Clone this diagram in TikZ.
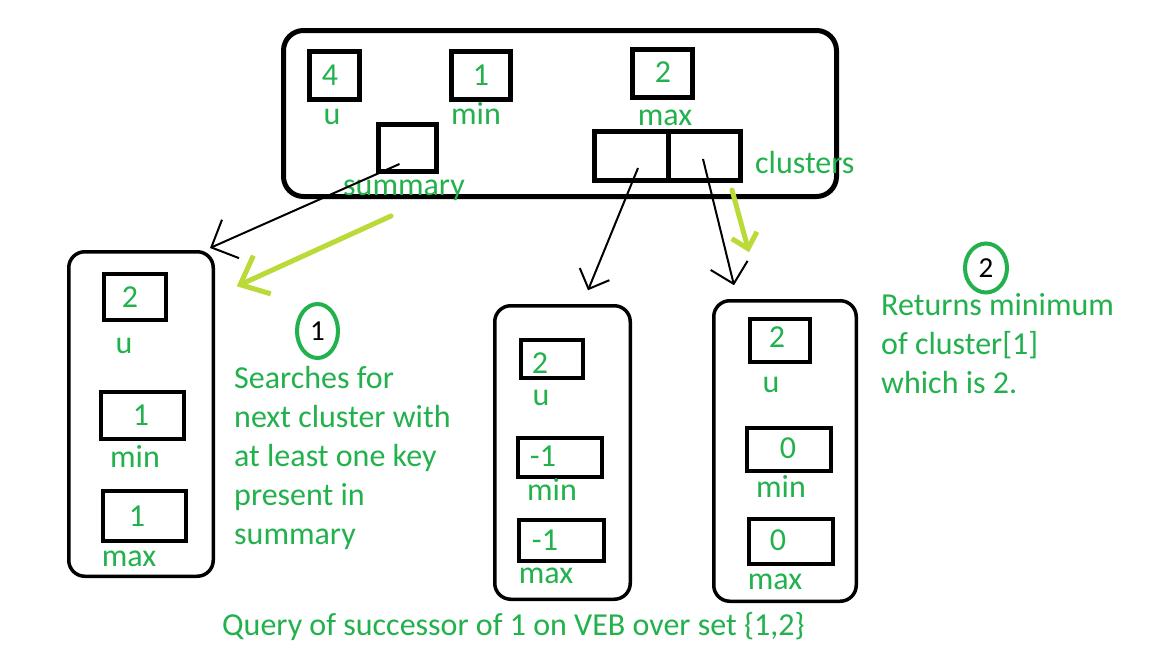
\documentclass[tikz,border=0pt]{standalone}
\usepackage{fontspec}
\setmainfont{Carlito}
\usetikzlibrary{arrows.meta,shapes.geometric}
\definecolor{pgreen}{RGB}{34,177,76}
\definecolor{plime}{RGB}{186,218,56}
\begin{document}
\begin{tikzpicture}[x=1pt,y=-1pt,
  outerbox/.style={draw, line width=5pt, rounded corners=20pt, inner sep=0pt},
  childbox/.style={draw, line width=3.5pt, rounded corners=16pt, inner sep=0pt},
  bigcell/.style={draw, line width=5pt, inner sep=0pt},
  cell/.style={draw, line width=4pt, inner sep=0pt},
  gtxt/.style={text=pgreen, font=\fontsize{32}{39}\selectfont, inner sep=0pt},
  circ/.style={ellipse, draw=pgreen, line width=4pt, inner sep=0pt, font=\fontsize{29}{34}\selectfont},
  blk/.style={draw, line width=2pt},
  lime/.style={draw=plime, line width=5pt, line cap=round, line join=round}
]
\useasboundingbox[fill=white] (0,0) rectangle (1152,648);

% main structure
\node[outerbox, minimum width=553pt, minimum height=166pt] (top) at (560,113.5) {};
\node[bigcell, minimum width=50pt, minimum height=48pt] (tu) at (334.5,75.5) {};
\node[bigcell, minimum width=59pt, minimum height=48pt] (tmin) at (481,75.5) {};
\node[bigcell, minimum width=60pt, minimum height=48pt] (tmax) at (662.5,73.5) {};
\node[bigcell, minimum width=58pt, minimum height=47pt] (summary) at (407.5,148) {};
\node[bigcell, minimum width=73.5pt, minimum height=49pt] (cl1) at (631.25,156) {};
\node[bigcell, minimum width=72.5pt, minimum height=49pt] (cl2) at (704.25,156) {};
\node[gtxt] (tuv) at (330,75) {4};
\node[gtxt] (tminv) at (481,75) {1};
\node[gtxt] (tmaxv) at (663,72) {2};
\node[gtxt, anchor=base] (tul) at (332,124) {u};
\node[gtxt, anchor=base] (tminl) at (476,124) {min};
\node[gtxt, anchor=base] (tmaxl) at (665,125) {max};
\node[gtxt, anchor=base] (suml) at (404,195) {summary};
\node[gtxt, anchor=base west] (cll) at (755,173) {clusters};

% left child (summary)
\node[childbox, minimum width=144.5pt, minimum height=324.5pt] (lchild) at (141,414) {};
\node[cell, minimum width=62pt, minimum height=46pt] (lu) at (135,297) {};
\node[cell, minimum width=83pt, minimum height=47pt] (lmin) at (142.5,415.5) {};
\node[cell, minimum width=83pt, minimum height=50pt] (lmax) at (144.5,516) {};
\node[gtxt] (luv) at (130,297) {2};
\node[gtxt] (lminv) at (141,415) {1};
\node[gtxt] (lmaxv) at (137,516) {1};
\node[gtxt, anchor=base] (lul) at (124,353) {u};
\node[gtxt, anchor=base] (lminl) at (135,467) {min};
\node[gtxt, anchor=base] (lmaxl) at (129,566) {max};

% middle child (cluster 0)
\node[childbox, minimum width=135.5pt, minimum height=293.5pt] (mchild) at (562.5,452.5) {};
\node[cell, minimum width=62pt, minimum height=38pt] (mu) at (552,359) {};
\node[cell, minimum width=84pt, minimum height=39pt] (mmin) at (560,457.5) {};
\node[cell, minimum width=85pt, minimum height=41pt] (mmax) at (561.5,540.5) {};
\node[gtxt] (muv) at (540,363) {2};
\node[gtxt] (mminv) at (543,456) {-1};
\node[gtxt] (mmaxv) at (545,540) {-1};
\node[gtxt, anchor=base] (mul) at (541,405) {u};
\node[gtxt, anchor=base] (mminl) at (552,500) {min};
\node[gtxt, anchor=base] (mmaxl) at (546,583) {max};

% right child (cluster 1)
\node[childbox, minimum width=142.5pt, minimum height=300.5pt] (rchild) at (785,451) {};
\node[cell, minimum width=60pt, minimum height=43pt] (ru) at (780,340.5) {};
\node[cell, minimum width=84pt, minimum height=43pt] (rmin) at (789,449.5) {};
\node[cell, minimum width=84pt, minimum height=45pt] (rmax) at (791,541.5) {};
\node[gtxt] (ruv) at (777,337) {2};
\node[gtxt] (rminv) at (788,448) {0};
\node[gtxt] (rmaxv) at (778,540) {0};
\node[gtxt, anchor=base] (rul) at (771,392) {u};
\node[gtxt, anchor=base] (rminl) at (781,497) {min};
\node[gtxt, anchor=base] (rmaxl) at (775,589) {max};

% annotations
\node[circ, minimum width=41pt, minimum height=54pt] (c1) at (317.5,331) {1};
\node[circ, minimum width=42pt, minimum height=49pt] (c2) at (986,268) {2};
\node[gtxt, anchor=base west] (note1) at (234,388)
  {\begin{tabular}[t]{@{}l@{}}Searches for\\ next cluster with\\ at least one key\\ present in\\ summary\end{tabular}};
\node[gtxt, anchor=base west] (note2) at (881,315)
  {\begin{tabular}[t]{@{}l@{}}Returns minimum\\ of cluster[1]\\ which is 2.\end{tabular}};
\node[gtxt, anchor=base west] (caption) at (222,635) {Query of successor of 1 on VEB over set \{1,2\}};

% connectors
\draw[blk, -{Straight Barb[length=21pt,width=42pt]}]
  ([shift={(-8,16)}]summary.center) -- ([shift={(-5,-2)}]lchild.north east);
\draw[lime, -{Straight Barb[length=24pt,width=42pt]}]
  ([shift={(-16.5,68)}]summary.center) -- ([shift={(21.75,36.25)}]lchild.north east);
\draw[blk, -{Straight Barb[length=16pt,width=32pt]}]
  ([shift={(6.75,12)}]cl1.center) -- ([shift={(25.5,-13.75)}]mchild.north);
\draw[blk, -{Straight Barb[length=19pt,width=38pt]}]
  ([shift={(-1.25,3)}]cl2.center) -- ([shift={(-51,-13.75)}]rchild.north);
\draw[lime, -{Straight Barb[length=14pt,width=26pt]}]
  ([shift={(27.75,34)}]cl2.center) -- ([shift={(-36,-46.75)}]rchild.north);
\end{tikzpicture}
\end{document}
